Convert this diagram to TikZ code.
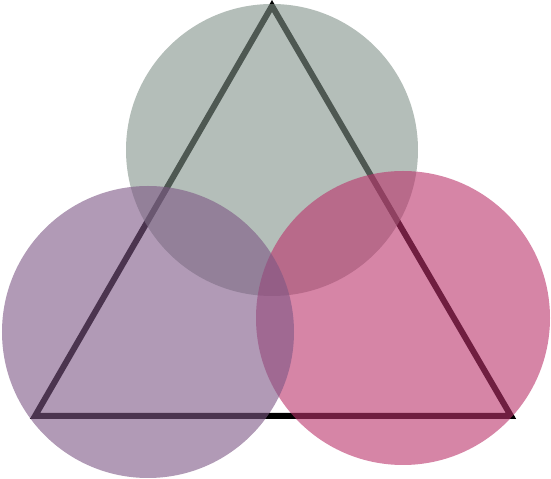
\documentclass[tikz,border=0pt]{standalone}
\usepackage{xcolor}
\definecolor{vennGrey}{HTML}{82938A}
\definecolor{vennPlum}{HTML}{7D5785}
\definecolor{vennRose}{HTML}{BB336B}
\usepackage{tikz}

\begin{document}
\begin{tikzpicture}[
    edge/.style={draw=black, line width=0.06cm, line join=miter},
    blob/.style={circle, inner sep=0pt, fill opacity=0.6, draw=none}
]
\useasboundingbox (0,0) rectangle (5.51,4.79);

% triangle corners
\coordinate (apex) at (2.72,4.73);
\coordinate (baseL) at (0.35,0.63);
\coordinate (baseR) at (5.11,0.63);

\draw [edge] (apex) -- (baseL) -- (baseR) -- cycle;

% overlapping discs (plum sits over rose)
\node (top) [blob, fill=vennGrey, minimum size=2.92cm] at (2.72,3.29) {};
\node (right) [blob, fill=vennRose, minimum size=2.94cm] at (4.03,1.61) {};
\node (left) [blob, fill=vennPlum, minimum size=2.92cm] at (1.48,1.47) {};

\end{tikzpicture}
\end{document}
